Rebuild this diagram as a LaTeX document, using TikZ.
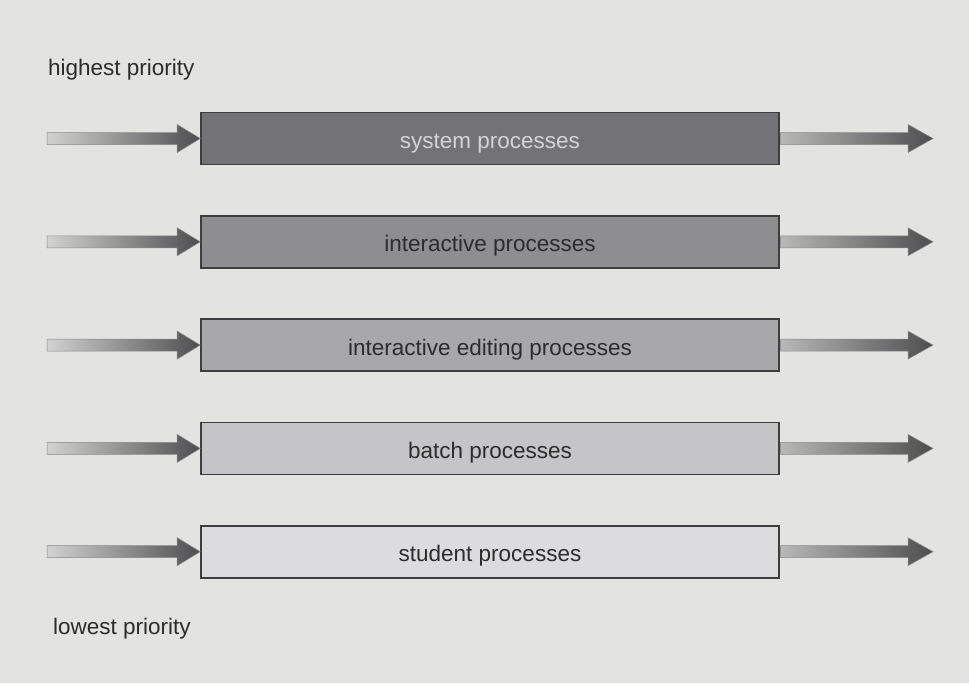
\documentclass[tikz,border=0pt]{standalone}
\usepackage{fontspec}
\setmainfont{Liberation Sans}
\usetikzlibrary{calc}
\definecolor{bg}{HTML}{E3E3E1}
\definecolor{boxline}{HTML}{3E3E40}
\definecolor{fA}{HTML}{727277}
\definecolor{fB}{HTML}{8E8E91}
\definecolor{fC}{HTML}{A8A8AB}
\definecolor{fD}{HTML}{C5C5C7}
\definecolor{fE}{HTML}{DCDCDE}
\definecolor{txtlight}{HTML}{D4D4D6}
\definecolor{txtdark}{HTML}{2C2C2C}
\definecolor{shaftlight}{HTML}{D2D2D2}
\definecolor{shaftdark}{HTML}{4E4E50}
\definecolor{shaftedge}{HTML}{8A8A8A}
\tikzset{
  qbox/.style={draw=boxline, line width=1.6pt, minimum width=578pt, minimum height=52pt,
    inner sep=0pt, text height=20pt, text depth=0pt,
    font=\fontsize{22.5}{27}\selectfont, text=txtdark},
  lbl/.style={inner sep=0pt, font=\fontsize{22.5}{27}\selectfont, text=txtdark, anchor=base west},
  arr/.style={draw=shaftedge, line width=0.5pt, left color=shaftlight, right color=shaftdark},
}
\begin{document}
\begin{tikzpicture}[x=1pt,y=-1pt]
\fill[bg] (0,0) rectangle (969,683);
\useasboundingbox (0,0) rectangle (969,683);

\node[lbl] (hi) at (48,75) {highest priority};
\node[lbl] (lo) at (53,634) {lowest priority};

\foreach \i/\y/\f/\t/\txt in {1/138.5/fA/txtlight/system processes,
                               2/241.8/fB/txtdark/interactive processes,
                               3/345.1/fC/txtdark/interactive editing processes,
                               4/448.4/fD/txtdark/batch processes,
                               5/551.7/fE/txtdark/student processes}{
  \node[qbox, fill=\f, text=\t] (b\i) at (490,\y) {\txt};
  \coordinate (l\i) at (47,\y);
  \coordinate (r\i) at (933,\y);
  % incoming arrow
  \shade[arr] (l\i) ++(0,-6) -- ($(b\i.west)+(-23,-6)$) -- ($(b\i.west)+(-23,-14)$)
     -- (b\i.west) -- ($(b\i.west)+(-23,14)$) -- ($(b\i.west)+(-23,6)$)
     -- ($(l\i)+(0,6)$) -- cycle;
  % outgoing arrow
  \shade[arr, left color=shaftlight!80!shaftdark] ($(b\i.east)+(0.8,-6)$) -- ($(r\i)+(-25,-6)$) -- ($(r\i)+(-25,-14)$)
     -- (r\i) -- ($(r\i)+(-25,14)$) -- ($(r\i)+(-25,6)$)
     -- ($(b\i.east)+(0.8,6)$) -- cycle;
}
\end{tikzpicture}
\end{document}
